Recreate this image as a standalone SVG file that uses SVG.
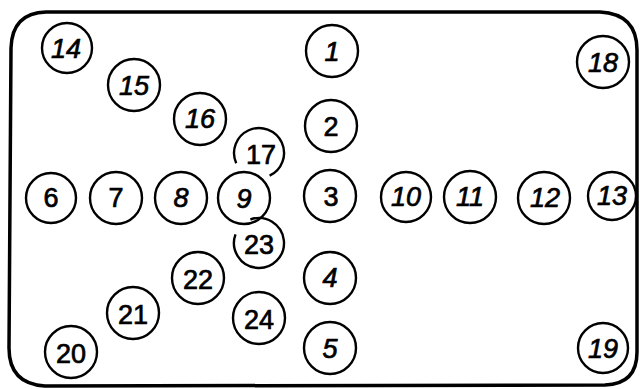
<svg xmlns="http://www.w3.org/2000/svg" width="640" height="389" viewBox="0 0 640 389">
<style>
.c{fill:none;stroke:#000;stroke-width:2.4}
.t{font-family:"Liberation Sans",Arial,sans-serif;font-size:27px;fill:#000;stroke:#000;stroke-width:0.7;text-anchor:middle;dominant-baseline:central}
.i{font-style:italic}
</style>
<rect width="640" height="389" fill="#fff"/>
<path d="M46,12 L600,12 Q637,14 637,50 L637,352 Q637,384 605,385 L45,386 Q9,384 9,348 L11,48 Q12,13 46,12 Z" fill="none" stroke="#000" stroke-width="3.5"/>
<g id="n14"><circle class="c" cx="67" cy="48" r="25"/><text class="t i" x="66" y="49" font-size="26">14</text></g>
<g id="n15"><circle class="c" cx="134" cy="85" r="26"/><text class="t i" x="134" y="86" font-size="25">15</text></g>
<g id="n16"><circle class="c" cx="200" cy="119" r="26"/><text class="t i" x="200" y="119" font-size="24">16</text></g>
<g id="n17"><path class="c" d="M236.2,163.2 A25,25 0 1 1 269.6,175.7"/><text class="t" x="261" y="155">17</text></g>
<g id="n1"><circle class="c" cx="332" cy="51" r="26"/><text class="t i" x="332" y="52" font-size="31">1</text></g>
<g id="n2"><circle class="c" cx="331" cy="126" r="26"/><text class="t" x="331" y="127">2</text></g>
<g id="n18"><circle class="c" cx="603" cy="62" r="26"/><text class="t i" x="603" y="63" font-size="27">18</text></g>
<g id="n6"><circle class="c" cx="51" cy="198" r="25"/><text class="t" x="51" y="198" font-size="26">6</text></g>
<g id="n7"><circle class="c" cx="116" cy="198" r="26"/><text class="t" x="116" y="198">7</text></g>
<g id="n8"><circle class="c" cx="181" cy="198" r="26"/><text class="t i" x="181" y="198" font-size="26">8</text></g>
<g id="n9"><circle class="c" cx="244" cy="198" r="26"/><text class="t i" x="244" y="199">9</text></g>
<g id="n3"><circle class="c" cx="330" cy="196" r="26"/><text class="t" x="331" y="197" font-size="33">3</text></g>
<g id="n10"><circle class="c" cx="406" cy="197" r="25"/><text class="t i" x="406" y="197" font-size="22">10</text></g>
<g id="n11"><circle class="c" cx="470" cy="197" r="26"/><text class="t i" x="470" y="197" font-size="21">11</text></g>
<g id="n12"><circle class="c" cx="544" cy="198" r="26"/><text class="t i" x="545" y="198" font-size="25">12</text></g>
<g id="n13"><circle class="c" cx="612" cy="196" r="24"/><text class="t i" x="612" y="196" font-size="26">13</text></g>
<g id="n23"><path class="c" d="M250.4,219.5 A25,25 0 1 1 235.5,234.4"/><text class="t" x="259" y="245" font-size="28">23</text></g>
<g id="n22"><circle class="c" cx="198" cy="278" r="26"/><text class="t" x="198" y="280">22</text></g>
<g id="n4"><circle class="c" cx="330" cy="278" r="26"/><text class="t i" x="330" y="278" font-size="35">4</text></g>
<g id="n21"><circle class="c" cx="133" cy="313" r="26"/><text class="t" x="133" y="315" font-size="25">21</text></g>
<g id="n24"><circle class="c" cx="259" cy="318" r="26"/><text class="t" x="259" y="320">24</text></g>
<g id="n20"><circle class="c" cx="71" cy="352" r="26"/><text class="t" x="71" y="354" font-size="23">20</text></g>
<g id="n5"><circle class="c" cx="330" cy="348" r="26"/><text class="t i" x="330" y="349" font-size="35">5</text></g>
<g id="n19"><circle class="c" cx="603" cy="348" r="25"/><text class="t i" x="603" y="349" font-size="27">19</text></g>
<g id="connectors"></g>
</svg>
